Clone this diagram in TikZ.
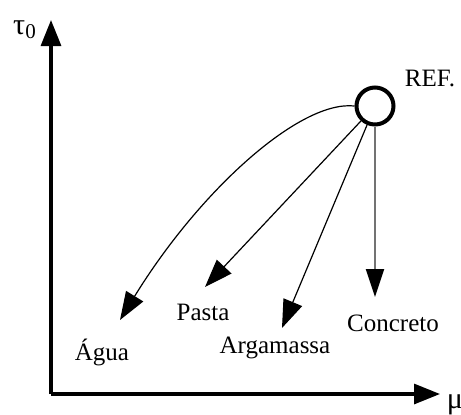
\documentclass[tikz,border=0pt]{standalone}
\usepackage{fontspec}
\setmainfont{Liberation Serif}
\usetikzlibrary{arrows.meta}
\definecolor{arrowgrey}{gray}{0.45}
\begin{document}
\begin{tikzpicture}[x=0.5pt,y=-0.5pt,
    axis/.style={line width=1.6pt,-{Triangle[length=13pt,width=10pt]}},
    flow/.style={line width=0.6pt,-{Triangle[length=14pt,width=10pt]}},
    lbl/.style={font=\fontsize{12.5}{15}\selectfont,inner sep=0pt},
    sym/.style={font=\fontsize{15}{18}\selectfont,inner sep=0pt}]
    \useasboundingbox (0,0) rectangle (461,414);
    % axes
    \coordinate (o) at (51,394);
    \coordinate (ytop) at (51,20);
    \coordinate (xend) at (440,394);
    \draw[axis] (o) -- (ytop);
    \draw[axis] (o) -- (xend);
    \node[sym] (tau) at (25,30) {τ\textsubscript{0}};
    \node[sym] (mu) at (455,405) {μ};
    % reference point
    \node[circle,draw,line width=2pt,minimum size=18.5pt,inner sep=0pt] (ref) at (375,106) {};
    \node[lbl] (reflabel) at (430,78) {REF.};
    % labels and arrow ends
    \node[lbl] (agua) at (102,352) {Água};
    \node[lbl] (pasta) at (203,312) {Pasta};
    \node[lbl] (argamassa) at (275,348) {Argamassa};
    \node[lbl] (concreto) at (393,323) {Concreto};
    \coordinate (tagua) at (120,320);
    \coordinate (tpasta) at (205,287);
    \coordinate (targamassa) at (282,328);
    \coordinate (tconcreto) at (375,297);
    \draw[flow] (ref.west) .. controls (300,100) and (200,190) .. (tagua);
    \draw[flow] (ref) -- (tpasta);
    \draw[flow] (ref) -- (targamassa);
    \draw[flow,line width=1pt,arrowgrey,-{Triangle[length=14pt,width=9pt,fill=black,color=black]}] (ref) -- (tconcreto);
\end{tikzpicture}
\end{document}
